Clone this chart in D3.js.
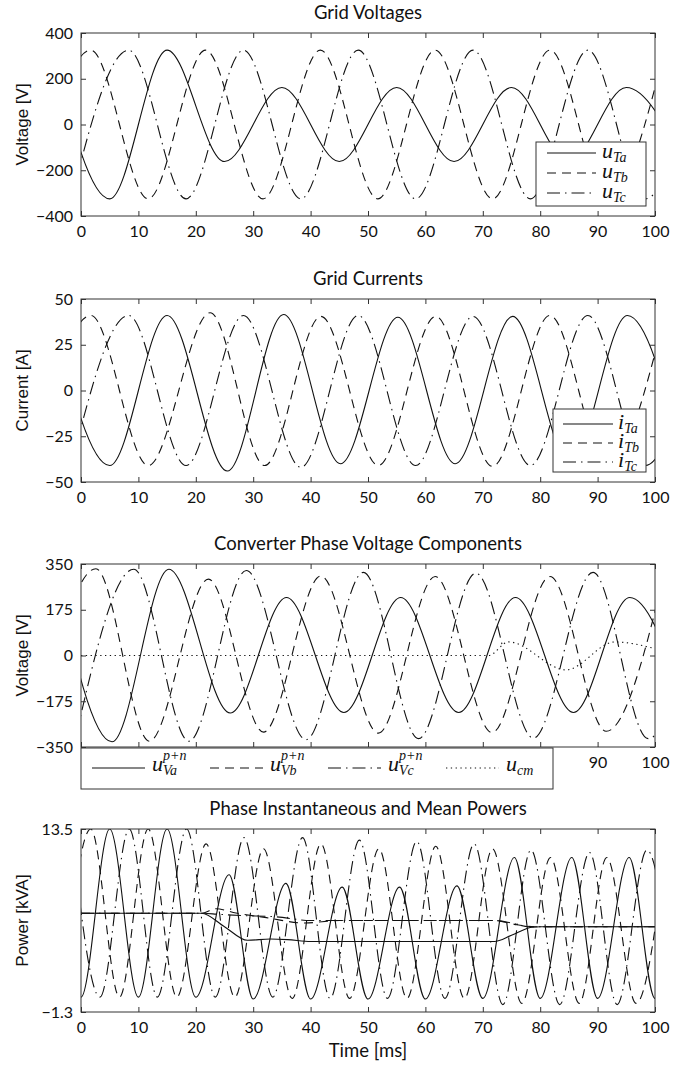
<!DOCTYPE html>
<html>
<head>
<meta charset="utf-8">
<script src="https://cdn.jsdelivr.net/npm/d3@7"></script>
<style>
  body { margin: 0; background: #fff; }
  .title, .xlabel { font-family: Lato, "Open Sans", sans-serif; font-size: 18.5px; fill: #111; }
  .ylabel { font-family: "Liberation Sans", Arial, sans-serif; font-size: 17px; fill: #111; }
  .tick text { font-family: Lato, "Open Sans", sans-serif; font-size: 16px; fill: #111; }
  .tick line { stroke: #333; }
  .lg-base { font-family: "Liberation Serif", serif; font-style: italic; font-size: 22px; fill: #111; }
  .lg-small { font-family: "Liberation Serif", serif; font-style: italic; font-size: 14px; fill: #111; }
</style>
</head>
<body>
<div id="chart"></div>
<script>
// values: extrema of each trace as [time ms, value]
const timeTicks = [0, 10, 20, 30, 40, 50, 60, 70, 80, 90, 100]

// Grid voltages [V]
const gridVoltA = [[-5,325],[5,-325],[15,325],[25,-162],[35,162],[45,-162],[55,162],[65,-162],[75,162],[85,-162],[95,162],[105,-162]]
const gridVoltB = [[-8.3,-325],[1.7,325],[11.7,-325],[21.7,325],[31.7,-325],[41.7,325],[51.7,-325],[61.7,325],[71.7,-325],[81.7,325],[91.7,-325],[101.7,325]]
const gridVoltC = [[-1.7,-325],[8.3,325],[18.3,-325],[28.3,325],[38.3,-325],[48.3,325],[58.3,-325],[68.3,325],[78.3,-325],[88.3,325],[98.3,-325],[108.3,325]]
const gridVoltTicks = [-400, -200, 0, 200, 400]

// Grid currents [A]
const gridCurA = [[-5,41],[5,-41],[15,41],[25.5,-44],[35.3,41.5],[45.2,-40],[55.2,40],[65.2,-40],[75.2,40.5],[85.2,-40],[95.2,41],[105.2,-41]]
const gridCurB = [[-8.3,-41],[1.7,41],[11.7,-41],[22.5,42.5],[32,-41],[41.8,40.5],[51.8,-41],[61.8,40.5],[71.7,-41.5],[81.7,41],[91.7,-41],[101.7,41]]
const gridCurC = [[-1.7,-41],[8.3,41],[18.3,-41],[28.3,41],[38.3,-42],[48.3,41],[58.3,-41],[68.3,40.5],[78.3,-41],[88.3,41],[98.3,-41],[108.3,41]]
const gridCurTicks = [-50, -25, 0, 25, 50]

// Converter phase voltage components [V]
const convVoltA = [[-4.6,330],[5.4,-330],[15.3,330],[26,-220],[35.8,222],[45.8,-218],[55.7,222],[65.8,-218],[75.7,222],[85.8,-218],[95.6,222],[105.6,-218]]
const convVoltB = [[-7.8,-325],[2.6,332],[11.9,-328],[22.2,292],[31.8,-293],[41.8,304],[51.8,-297],[61.7,302],[71.6,-295],[81.7,302],[91.5,-290],[101.5,300]]
const convVoltC = [[-0.8,-300],[9.2,330],[18.8,-328],[28.8,325],[39.2,-322],[49.2,318],[58.8,-318],[68.8,315],[78.8,-316],[89.2,318],[98.8,-318],[108.8,318]]
const convVoltCm = [[0,0],[71,0],[74.5,52],[84.5,-55],[93,52],[100,26]]
const convVoltTicks = [-350, -175, 0, 175, 350]

// Phase instantaneous and mean powers [kVA]
const powerA = [[-5,13.5],[0,-0.1],[5,13.5],[10,-0.1],[15,13.5],[20,-0.1],[25.8,9.8],[30,-0.25],[35.7,9.1],[40,-0.25],[45.5,8.8],[50,-0.25],[55.5,8.8],[60,-0.25],[65.5,8.9],[70,-0.2],[75.5,11.2],[80,-0.2],[85.5,11.2],[90,-0.2],[95.5,11.2],[100,-0.2],[105,11.2]]
const powerB = [[-3.3,-0.1],[1.7,13.5],[6.7,-0.1],[11.7,13.5],[16.7,-0.1],[21.8,12.3],[26.8,-0.1],[31.8,11.9],[36.8,-0.2],[41.8,12.3],[46.8,-0.2],[51.9,11.9],[56.8,-0.2],[61.8,12.1],[66.8,-0.2],[71.7,11.9],[76.8,-0.6],[81.8,11.2],[86.8,-0.6],[91.6,11.2],[96.7,-0.6],[101.7,11.2]]
const powerC = [[-1.7,13.5],[3.3,-0.1],[8.4,13.5],[13.3,-0.1],[18.4,13.5],[23.4,-0.1],[28.4,12.8],[33.4,-0.1],[38.6,12.8],[43.4,-0.2],[48.5,12.6],[53.4,-0.2],[58.5,12.5],[63.4,-0.2],[68.5,12.3],[73.5,-0.7],[78.4,11.8],[83.4,-0.7],[88.6,11.6],[93.4,-0.7],[98.6,11.8],[103.4,-0.7]]
const meanPowerA = [[0,6.69],[21,6.69],[25,5.6],[29,4.5],[33,4.6],[36,4.55],[40,4.4],[72,4.4],[75,4.9],[78.5,5.55],[80,5.6],[100,5.6]]
const meanPowerB = [[0,6.69],[21,6.69],[23.5,7.05],[27,6.7],[32,6.35],[39,5.9],[45,6.1],[72,6.1],[76,5.75],[79,5.6],[100,5.6]]
const meanPowerC = [[0,6.69],[21,6.69],[24,6.6],[28,6.5],[34,6.4],[40,6.1],[72,6.1],[75,5.9],[78,5.6],[100,5.6]]
const powerTicks = [-1.3, 13.5]

// legend labels
const gridVoltLabels = [{base: "u", sub: "Ta"}, {base: "u", sub: "Tb"}, {base: "u", sub: "Tc"}]
const gridCurLabels = [{base: "i", sub: "Ta"}, {base: "i", sub: "Tb"}, {base: "i", sub: "Tc"}]
const convVoltLabels = [{base: "u", sub: "Va", sup: "p+n"}, {base: "u", sub: "Vb", sup: "p+n"}, {base: "u", sub: "Vc", sup: "p+n"}, {base: "u", sub: "cm"}]

const W = 574, H = 183, LEFT = 81
const dashes = {solid: null, dashed: "9,6", dashdot: "13,5,1.5,5", dotted: "1.3,3.5"}

const panels = [
  {top: 33, title: "Grid Voltages", yLabel: "Voltage [V]", yDomain: [-400, 400], yTicks: gridVoltTicks,
   series: [{data: gridVoltA, style: "solid"}, {data: gridVoltB, style: "dashed"}, {data: gridVoltC, style: "dashdot"}],
   legend: {labels: gridVoltLabels, x: 455, y: 109, w: 110, h: 64, x0: 11, y0: 11, step: 20, len: 49, gap: 6, horizontal: false, baseOff: 5, subOff: 9}},
  {top: 299, title: "Grid Currents", yLabel: "Current [A]", yDomain: [-50, 50], yTicks: gridCurTicks,
   series: [{data: gridCurA, style: "solid"}, {data: gridCurB, style: "dashed"}, {data: gridCurC, style: "dashdot"}],
   legend: {labels: gridCurLabels, x: 472, y: 110, w: 93, h: 63, x0: 10, y0: 15, step: 19, len: 50, gap: 5, horizontal: false, baseOff: 5, subOff: 9}},
  {top: 564, title: "Converter Phase Voltage Components", yLabel: "Voltage [V]", yDomain: [-350, 350], yTicks: convVoltTicks,
   xLabelMin: 85,
   series: [{data: convVoltA, style: "solid"}, {data: convVoltB, style: "dashed"}, {data: convVoltC, style: "dashdot"}, {data: convVoltCm, style: "dotted"}],
   legend: {labels: convVoltLabels, x: 0, y: 184, w: 472, h: 41, x0: 11, y0: 20, step: 118, len: 53, gap: 7, horizontal: true, baseOff: 3, subOff: 7, supOff: -8}},
  {top: 829, title: "Phase Instantaneous and Mean Powers", yLabel: "Power [kVA]", yDomain: [-1.3, 13.5], yTicks: powerTicks,
   xLabel: "Time [ms]",
   series: [{data: powerA, style: "solid"}, {data: powerB, style: "dashed"}, {data: powerC, style: "dashdot"},
            {data: meanPowerA, style: "solid"}, {data: meanPowerB, style: "dashed"}, {data: meanPowerC, style: "dashdot"}]}
]

const svg = d3.select("#chart").append("svg").attr("width", 698).attr("height", 1066)

function drawLegend(g, lg) {
  const box = g.append("g").attr("transform", `translate(${lg.x},${lg.y})`)
  box.append("rect").attr("width", lg.w).attr("height", lg.h)
    .attr("fill", "#fff").attr("stroke", "#333").attr("stroke-width", 1)
  const styles = ["solid", "dashed", "dashdot", "dotted"]
  lg.labels.forEach((it, k) => {
    const ox = lg.horizontal ? lg.x0 + k * lg.step : lg.x0
    const oy = lg.horizontal ? lg.y0 : lg.y0 + k * lg.step
    box.append("line").attr("x1", ox).attr("x2", ox + lg.len).attr("y1", oy).attr("y2", oy)
      .attr("stroke", "#111").attr("stroke-width", 1.1).attr("stroke-dasharray", dashes[styles[k]])
    const tx = ox + lg.len + lg.gap
    // one text element: base letter, then subscript / superscript stacked after it
    const t = box.append("text").attr("x", tx).attr("y", oy + lg.baseOff)
    const base = t.append("tspan").attr("class", "lg-base").text(it.base)
    const bw = base.node().getComputedTextLength()
    if (it.sub) t.append("tspan").attr("class", "lg-small").attr("x", tx + bw).attr("y", oy + lg.subOff).text(it.sub)
    if (it.sup) t.append("tspan").attr("class", "lg-small").attr("x", tx + bw).attr("y", oy + lg.supOff).text(it.sup)
  })
}

function drawPanel(p, idx) {
  const g = svg.append("g").attr("transform", `translate(${LEFT},${p.top})`)
  const x = d3.scaleLinear().domain([0, 100]).range([0, W])
  const y = d3.scaleLinear().domain(p.yDomain).range([H, 0])
  const fmt = d3.format("")

  g.append("clipPath").attr("id", "clip" + idx)
    .append("rect").attr("width", W).attr("height", H)

  g.append("text").attr("class", "title")
    .attr("x", W / 2).attr("y", -21)
    .attr("text-anchor", "middle").attr("dominant-baseline", "central")
    .text(p.title)

  g.append("text").attr("class", "ylabel")
    .attr("transform", `translate(-59,${H / 2}) rotate(-90)`)
    .attr("text-anchor", "middle").attr("dominant-baseline", "central")
    .text(p.yLabel)

  const line = d3.line().x(d => x(d[0])).y(d => y(d[1])).curve(d3.curveMonotoneX)
  const plot = g.append("g").attr("clip-path", `url(#clip${idx})`)
  p.series.forEach(s => {
    plot.append("path").attr("d", line(s.data))
      .attr("fill", "none").attr("stroke", "#111").attr("stroke-width", 1.1)
      .attr("stroke-dasharray", dashes[s.style])
  })

  // MATLAB style box with inward ticks on all sides
  const xb = g.append("g").attr("transform", `translate(0,${H})`)
    .call(d3.axisBottom(x).tickValues(timeTicks).tickSizeInner(-5).tickSizeOuter(0).tickPadding(10).tickFormat(fmt))
  if (p.xLabelMin != null) xb.selectAll(".tick text").filter(d => d < p.xLabelMin).remove()
  g.append("g")
    .call(d3.axisTop(x).tickValues(timeTicks).tickSizeInner(-5).tickSizeOuter(0).tickFormat(""))
  g.append("g")
    .call(d3.axisLeft(y).tickValues(p.yTicks).tickSizeInner(-5).tickSizeOuter(0).tickPadding(8).tickFormat(fmt))
  g.append("g").attr("transform", `translate(${W},0)`)
    .call(d3.axisRight(y).tickValues(p.yTicks).tickSizeInner(-5).tickSizeOuter(0).tickFormat(""))
  g.selectAll(".domain").remove()

  g.append("rect").attr("width", W).attr("height", H)
    .attr("fill", "none").attr("stroke", "#333").attr("stroke-width", 1)

  if (p.legend) drawLegend(g, p.legend)

  if (p.xLabel) {
    g.append("text").attr("class", "xlabel")
      .attr("x", W / 2).attr("y", H + 38)
      .attr("text-anchor", "middle").attr("dominant-baseline", "central")
      .text(p.xLabel)
  }
}

panels.forEach(drawPanel)
</script>
</body>
</html>
